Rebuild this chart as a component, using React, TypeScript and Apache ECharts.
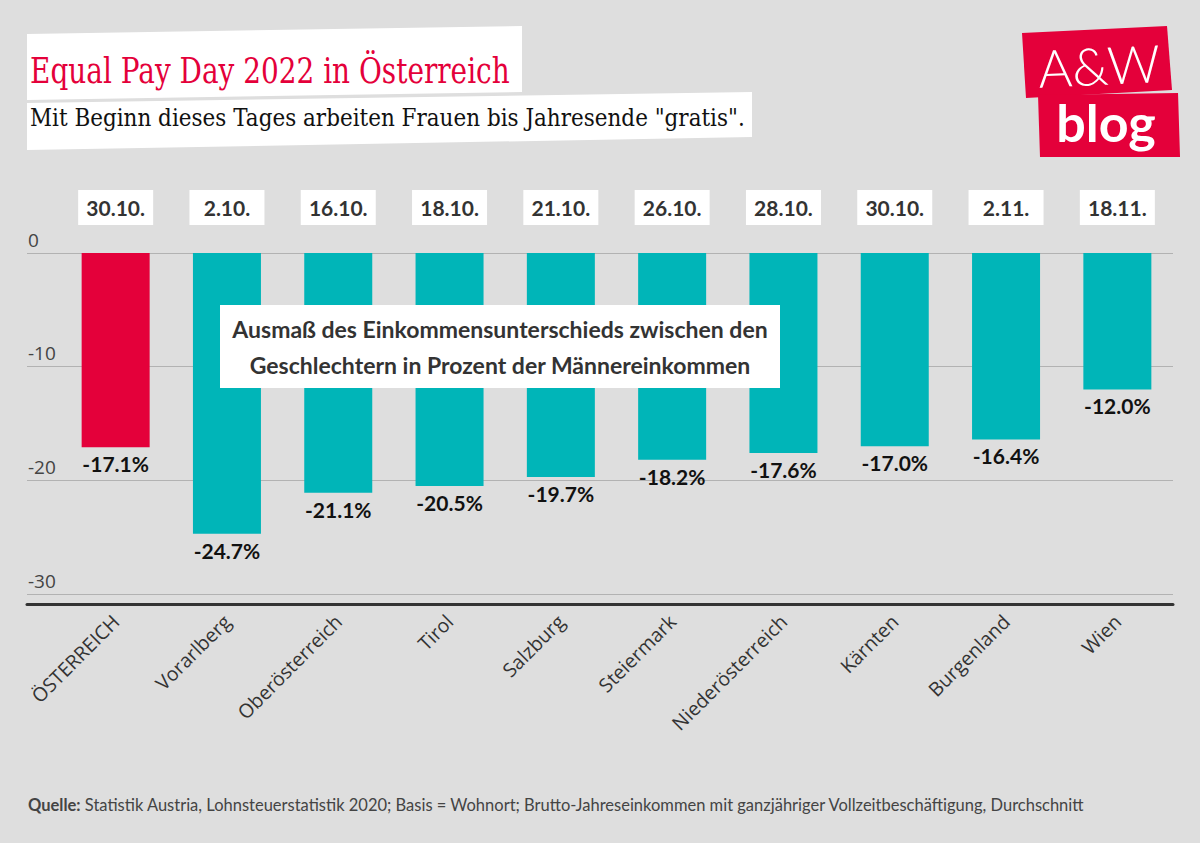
import React, { useEffect, useRef } from "react";
import * as echarts from "echarts";

const categories = [
  "ÖSTERREICH",
  "Vorarlberg",
  "Oberösterreich",
  "Tirol",
  "Salzburg",
  "Steiermark",
  "Niederösterreich",
  "Kärnten",
  "Burgenland",
  "Wien",
];
const gapValues = [-17.1, -24.7, -21.1, -20.5, -19.7, -18.2, -17.6, -17.0, -16.4, -12.0];
const equalPayDates = ["30.10.", "2.10.", "16.10.", "18.10.", "21.10.", "26.10.", "28.10.", "30.10.", "2.11.", "18.11."];
const yMin = -30;
const yMax = 0;
const yStep = 10;

const titleText = "Equal Pay Day 2022 in Österreich";
const subtitleText = 'Mit Beginn dieses Tages arbeiten Frauen bis Jahresende "gratis".';
const annotationLines = [
  "Ausmaß des Einkommensunterschieds zwischen den",
  "Geschlechtern in Prozent der Männereinkommen",
];
const sourceLabel = "Quelle:";
const sourceText =
  " Statistik Austria, Lohnsteuerstatistik 2020; Basis = Wohnort; Brutto-Jahreseinkommen mit ganzjähriger Vollzeitbeschäftigung, Durchschnitt";
const logoTop = "A&W";
const logoBottom = "blog";

const RED = "#e4003a";
const TEAL = "#00b5b8";

function measure(text: string, font: string): number {
  const c = document.createElement("canvas").getContext("2d");
  if (!c) return 0;
  c.font = font;
  return c.measureText(text).width;
}

export default function App() {
  const ref = useRef<HTMLDivElement>(null);

  useEffect(() => {
    if (!ref.current) return;
    const chart = echarts.init(ref.current, null, { renderer: "svg" });

    const titleFont = '35px "DejaVu Serif"';
    const subFont = '25px "DejaVu Serif"';
    const tW = measure(titleText, titleFont) || 480;
    const sW = measure(subtitleText, subFont) || 715;
    const titleScale = 480 / tW;
    const subScale = 715 / sW;

    const gridTop = 253;
    const gridBottom = 843 - 594;

    chart.setOption({
      animation: false,
      backgroundColor: "#dedede",
      grid: [
        { left: 60, right: 27, top: gridTop, bottom: gridBottom, containLabel: false },
        { left: 27, right: 27, top: gridTop, bottom: gridBottom, containLabel: false },
      ],
      xAxis: [
        {
          type: "category",
          gridIndex: 0,
          data: categories,
          position: "bottom",
          offset: 10,
          axisLine: { show: false },
          axisTick: { show: false },
          axisLabel: {
            interval: 0,
            rotate: 45,
            margin: 14,
            fontFamily: "Open Sans",
            fontSize: 19.5,
            color: "#333",
          },
        },
        {
          type: "category",
          gridIndex: 0,
          data: equalPayDates,
          position: "top",
          axisLine: { show: false },
          axisTick: { show: false },
          axisLabel: {
            interval: 0,
            margin: 28,
            fontFamily: "Lato",
            fontWeight: "bold",
            fontSize: 21,
            color: "#333",
            backgroundColor: "#ffffff",
            padding: [7, 7, 7, 7],
            width: 61,
            align: "center",
          },
        },
        {
          type: "value",
          gridIndex: 1,
          min: 0,
          max: 1,
          offset: 10,
          position: "bottom",
          axisLine: { show: true, onZero: false, lineStyle: { color: "#333", width: 3 } },
          axisTick: { show: false },
          axisLabel: { show: false },
          splitLine: { show: false },
        },
      ],
      yAxis: [
        {
          type: "value",
          gridIndex: 0,
          min: yMin,
          max: yMax,
          interval: yStep,
          show: false,
          splitLine: { show: false },
        },
        {
          type: "value",
          gridIndex: 1,
          min: yMin,
          max: yMax,
          interval: yStep,
          axisLine: { show: false },
          axisTick: { show: false },
          axisLabel: {
            align: "left",
            verticalAlign: "bottom",
            margin: -1,
            padding: [0, 0, 4, 0],
            fontFamily: "Open Sans",
            fontSize: 19,
            color: "#444",
          },
          splitLine: { show: true, lineStyle: { color: "#b2b2b2", width: 1 } },
        },
      ],
      series: [
        {
          type: "bar",
          xAxisIndex: 0,
          yAxisIndex: 0,
          barWidth: 68,
          data: gapValues.map((v, i) => ({
            value: v,
            itemStyle: { color: i === 0 ? RED : TEAL },
          })),
          label: {
            show: true,
            position: "bottom",
            distance: 6,
            formatter: (p: any) => Number(p.value).toFixed(1) + "%",
            fontFamily: "Lato",
            fontWeight: "bold",
            fontSize: 21,
            color: "#111",
          },
        },
      ],
      graphic: [
        {
          type: "polygon",
          z: 100,
          shape: { points: [[27, 34], [522, 26], [522, 92], [27, 100]] },
          style: { fill: "#ffffff" },
        },
        {
          type: "polygon",
          z: 101,
          shape: { points: [[27, 103], [752, 92], [752, 137], [27, 150]] },
          style: { fill: "#ffffff" },
        },
        {
          type: "text",
          z: 102,
          x: 30,
          y: 71,
          scaleX: titleScale,
          style: {
            text: titleText,
            font: titleFont,
            fill: RED,
            align: "left",
            verticalAlign: "middle",
          },
        },
        {
          type: "text",
          z: 102,
          x: 30,
          y: 117,
          scaleX: subScale,
          style: {
            text: subtitleText,
            font: subFont,
            fill: "#111",
            align: "left",
            verticalAlign: "middle",
          },
        },
        {
          type: "polygon",
          z: 100,
          shape: { points: [[1022, 33], [1167, 26], [1172, 90], [1026, 98]] },
          style: { fill: RED },
        },
        {
          type: "polygon",
          z: 101,
          shape: { points: [[1038, 95], [1178, 93], [1180, 157], [1040, 157]] },
          style: { fill: RED },
        },
        {
          type: "text",
          z: 102,
          x: 1099,
          y: 65,
          rotation: 0.045,
          style: {
            text: logoTop,
            fontFamily: "Lato",
            fontWeight: 300,
            fontSize: 52,
            fill: "#ffffff",
            align: "center",
            verticalAlign: "middle",
          },
        },
        {
          type: "text",
          z: 102,
          x: 1106,
          y: 122,
          style: {
            text: logoBottom,
            fontFamily: "Lato",
            fontWeight: "bold",
            fontSize: 52,
            fill: "#ffffff",
            align: "center",
            verticalAlign: "middle",
          },
        },
        {
          type: "rect",
          z: 100,
          shape: { x: 220, y: 305, width: 560, height: 83 },
          style: { fill: "#ffffff" },
        },
        {
          type: "text",
          z: 101,
          x: 500,
          y: 347,
          style: {
            text: annotationLines.join("\n"),
            fontFamily: "Lato",
            fontWeight: "bold",
            fontSize: 23,
            lineHeight: 36,
            fill: "#333",
            align: "center",
            verticalAlign: "middle",
          },
        },
        {
          type: "text",
          z: 100,
          x: 28,
          y: 805,
          style: {
            text: "{b|" + sourceLabel + "}" + sourceText,
            fontFamily: "Lato",
            fontSize: 16.5,
            fill: "#444",
            align: "left",
            verticalAlign: "middle",
            rich: {
              b: { fontFamily: "Lato", fontWeight: "bold", fontSize: 16.5, fill: "#444" },
            },
          },
        },
      ],
    });

    return () => chart.dispose();
  }, []);

  return (
    <div
      ref={ref}
      style={{ position: "absolute", left: 0, top: 0, width: 1200, height: 843 }}
    />
  );
}
